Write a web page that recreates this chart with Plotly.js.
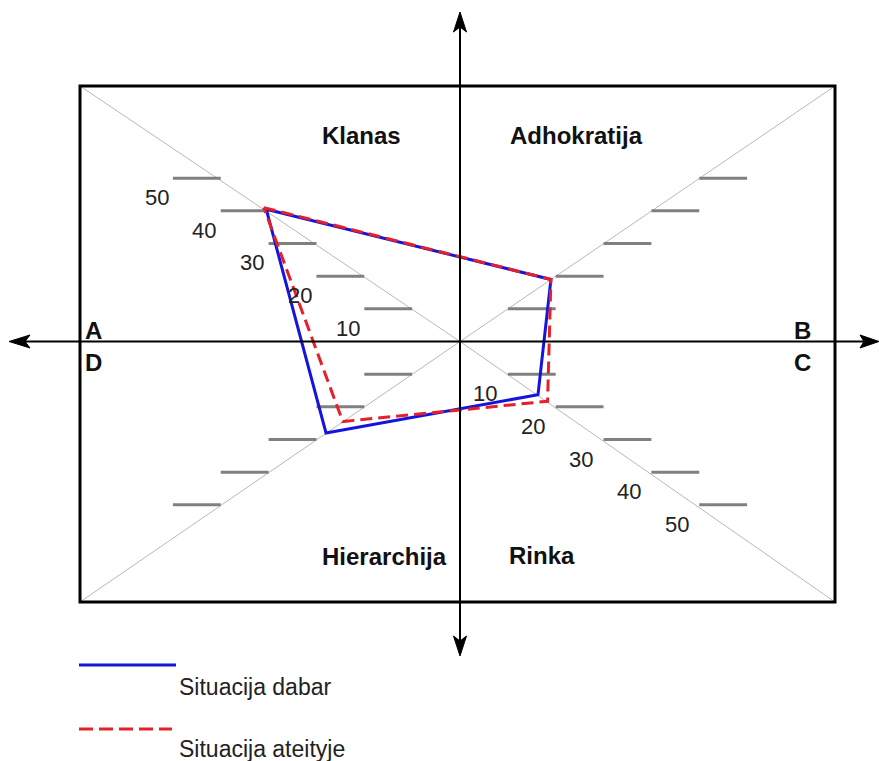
<!DOCTYPE html>
<html>
<head>
<meta charset="utf-8">
<script src="https://cdn.plot.ly/plotly-3.0.1.min.js"></script>
<style>html,body{margin:0;padding:0;background:#fff;}#chart{width:879px;height:761px;}</style>
</head>
<body>
<div id="chart"></div>
<script>
// ---- data ----
const categories = ['Klanas', 'Adhokratija', 'Rinka', 'Hierarchija'];
const dabar = [40.5, 19, 16.3, 28];
const ateityje = [41, 19, 18.3, 24.5];
const seriesNames = ['Situacija dabar', 'Situacija ateityje'];
const tickValues = [10, 20, 30, 40, 50];
const tickLabels = ['10', '20', '30', '40', '50'];
const cornerLabels = ['A', 'B', 'C', 'D'];

// ---- geometry (pixel scale of one value unit) ----
const W = 879, H = 761;
const CX = 460, CY = 341.5, SX = 4.785, SY = 3.266;
const ux = px => (px - CX) / SX;
const uy = py => (CY - py) / SY;
const dirs = [[-1, 1], [1, 1], [1, -1], [-1, -1]]; // Klanas, Adhokratija, Rinka, Hierarchija

function poly(vals) {
  const x = vals.map((v, i) => dirs[i][0] * v);
  const y = vals.map((v, i) => dirs[i][1] * v);
  x.push(x[0]); y.push(y[0]);
  return {x, y};
}
const pB = poly(dabar), pR = poly(ateityje);

const traces = [
  {type: 'scatter', mode: 'lines', name: seriesNames[0], x: pB.x, y: pB.y,
   line: {color: '#1414dc', width: 3}, showlegend: false, hoverinfo: 'skip'},
  {type: 'scatter', mode: 'lines', name: seriesNames[1], x: pR.x, y: pR.y,
   line: {color: '#e4202a', width: 3, dash: '12px,6px'}, showlegend: false, hoverinfo: 'skip'}
];

const shapes = [];
// frame corners in units
const fx0 = ux(80), fx1 = ux(835), fy1 = uy(86), fy0 = uy(602);
// diagonals from centre to corners
[[fx0, fy1], [fx1, fy1], [fx1, fy0], [fx0, fy0]].forEach(c => {
  shapes.push({type: 'line', xref: 'x', yref: 'y', x0: 0, y0: 0, x1: c[0], y1: c[1],
    line: {color: '#b8b8b8', width: 1}, layer: 'below'});
});
// ticks on each arm
const tickLen = 10;
dirs.forEach(d => {
  tickValues.forEach(v => {
    const x = d[0] * v, y = d[1] * v;
    shapes.push({type: 'line', xref: 'x', yref: 'y', x0: x, y0: y, x1: x + d[0] * tickLen, y1: y,
      line: {color: '#808080', width: 3}, layer: 'below'});
  });
});
// frame
shapes.push({type: 'rect', xref: 'x', yref: 'y', x0: fx0, x1: fx1, y0: fy0, y1: fy1,
  line: {color: '#000', width: 3}, layer: 'below'});
// axes
shapes.push({type: 'line', xref: 'x', yref: 'y', x0: ux(14), x1: ux(874), y0: 0, y1: 0, line: {color: '#000', width: 2}});
shapes.push({type: 'line', xref: 'x', yref: 'y', x0: 0, x1: 0, y0: uy(16), y1: uy(651), line: {color: '#000', width: 2}});
// arrowheads (pixel paths -> paper)
const P = (px, py) => (px / W).toFixed(5) + ',' + (1 - py / H).toFixed(5);
function head(pts) {
  return {type: 'path', xref: 'paper', yref: 'paper',
    path: 'M' + pts.map(p => P(p[0], p[1])).join(' L') + ' Z',
    fillcolor: '#000', line: {color: '#000', width: 1}};
}
shapes.push(head([[460, 12], [466.5, 32], [460, 27], [453.5, 32]]));
shapes.push(head([[460, 656], [466.5, 636], [460, 641], [453.5, 636]]));
shapes.push(head([[9, 341.5], [30, 335], [25, 341.5], [30, 348]]));
shapes.push(head([[879, 341.5], [860, 335], [864, 341.5], [860, 348]]));

// legend lines
shapes.push({type: 'line', xref: 'paper', yref: 'paper', x0: 79 / W, x1: 176 / W, y0: 1 - 665 / H, y1: 1 - 665 / H,
  line: {color: '#1414dc', width: 3}});
shapes.push({type: 'line', xref: 'paper', yref: 'paper', x0: 79 / W, x1: 172 / W, y0: 1 - 729 / H, y1: 1 - 729 / H,
  line: {color: '#e4202a', width: 3, dash: '14px,6px'}});

const annotations = [];
const boldFont = {family: 'Liberation Sans, Arial, sans-serif', size: 24, color: '#111'};
const normFont = {family: 'Liberation Sans, Arial, sans-serif', size: 22, color: '#222'};
// quadrant names
const quadPos = [[361.5, 135], [576, 135], [542, 555], [384.5, 556]];
categories.forEach((c, i) => {
  annotations.push({x: ux(quadPos[i][0]), y: uy(quadPos[i][1]), xref: 'x', yref: 'y', text: '<b>' + c + '</b>',
    showarrow: false, font: boldFont, xanchor: 'center', yanchor: 'middle'});
});
// corner letters
const letterPos = [[93.5, 330], [802, 330], [802, 362], [93, 362]];
cornerLabels.forEach((l, i) => {
  annotations.push({x: ux(letterPos[i][0]), y: uy(letterPos[i][1]), xref: 'x', yref: 'y', text: '<b>' + l + '</b>',
    showarrow: false, font: boldFont, xanchor: 'center', yanchor: 'middle'});
});
// tick labels on top-left and bottom-right arms
tickValues.forEach((v, i) => {
  annotations.push({x: -v - 13.4, y: v - 5.9, xref: 'x', yref: 'y', text: tickLabels[i],
    showarrow: false, font: normFont, xanchor: 'center', yanchor: 'middle'});
  annotations.push({x: v - 4.7, y: -v - 6.0, xref: 'x', yref: 'y', text: tickLabels[i],
    showarrow: false, font: normFont, xanchor: 'center', yanchor: 'middle'});
});
// legend text
const legFont = {family: 'Liberation Sans, Arial, sans-serif', size: 23, color: '#222'};
annotations.push({x: 177 / W, y: 1 - 687 / H, xref: 'paper', yref: 'paper', text: seriesNames[0],
  showarrow: false, font: legFont, xanchor: 'left', yanchor: 'middle'});
annotations.push({x: 177 / W, y: 1 - 749 / H, xref: 'paper', yref: 'paper', text: seriesNames[1],
  showarrow: false, font: legFont, xanchor: 'left', yanchor: 'middle'});

const layout = {
  width: W, height: H, autosize: false,
  margin: {l: 0, r: 0, t: 0, b: 0, pad: 0},
  paper_bgcolor: '#fff', plot_bgcolor: '#fff',
  xaxis: {range: [ux(0), ux(W)], visible: false, fixedrange: true},
  yaxis: {range: [uy(H), uy(0)], visible: false, fixedrange: true},
  showlegend: false,
  shapes, annotations
};
Plotly.newPlot('chart', traces, layout, {staticPlot: true, displayModeBar: false});
</script>
</body>
</html>
